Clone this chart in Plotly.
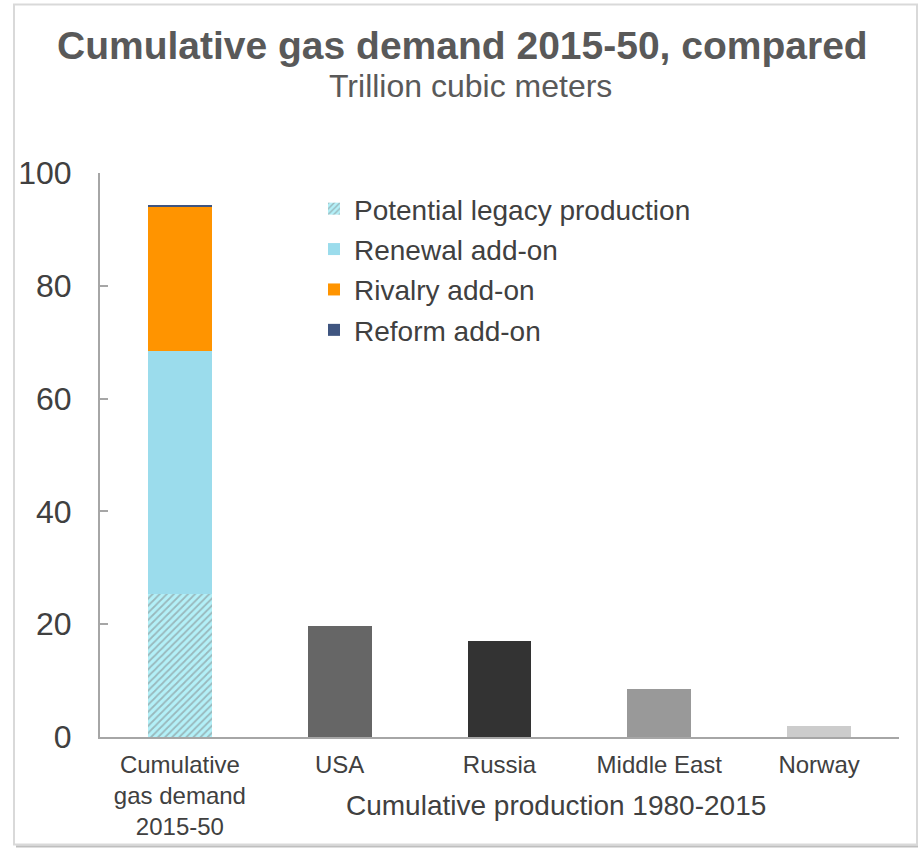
import plotly.graph_objects as go

categories = ["Cumulative<br>gas demand<br>2015-50", "USA", "Russia", "Middle East", "Norway"]
stack_names = ["Potential legacy production", "Renewal add-on", "Rivalry add-on", "Reform add-on"]
stack_values = [25.3, 43.2, 25.5, 0.4]
stack_colors = ["#b3f0f8", "#9bdcec", "#ff9400", "#3f5580"]
prod_categories = ["USA", "Russia", "Middle East", "Norway"]
prod_values = [19.6, 17.1, 8.5, 1.9]
prod_colors = ["#666666", "#333333", "#999999", "#cccccc"]
y_ticks = [0, 20, 40, 60, 80, 100]

FONT = "Liberation Sans, Arial, sans-serif"

fig = go.Figure()
for i, (name, val, col) in enumerate(zip(stack_names, stack_values, stack_colors)):
    marker = dict(color=col, line=dict(width=0))
    if i == 0:
        marker["pattern"] = dict(shape="/", fgcolor="#808080", bgcolor=col, size=5, solidity=0.35)
    fig.add_trace(go.Bar(x=[categories[0]], y=[val], name=name, marker=marker,
                         width=0.4, legendgroup=f"g{i}"))

fig.add_trace(go.Bar(x=prod_categories, y=prod_values, marker=dict(color=prod_colors, line=dict(width=0)),
                     width=0.4, showlegend=False))

W, H = 920, 852
L, R, T, B = 100, 21, 173, 113
pw = W - L - R
ph = H - T - B

def px2x(px):
    return (px - L) / pw

def py2y(py):
    return (H - B - py) / ph

fig.update_layout(
    width=W, height=H,
    margin=dict(l=L, r=R, t=T, b=B),
    barmode="stack",
    paper_bgcolor="white", plot_bgcolor="white",
    font=dict(family=FONT, color="#404040"),
    legend=dict(x=px2x(314), y=py2y(184), xanchor="left", yanchor="top",
                traceorder="grouped", tracegroupgap=1,
                font=dict(size=28, color="#404040", family=FONT),
                bgcolor="rgba(0,0,0,0)"),
    xaxis=dict(categoryorder="array", categoryarray=categories,
               showline=True, linecolor="#a6a6a6", linewidth=2,
               ticks="", tickfont=dict(size=24, color="#404040"), showgrid=False,
               ticklabelstandoff=5),
    yaxis=dict(range=[0, 100], tickvals=y_ticks, showline=True, linecolor="#a6a6a6", linewidth=2,
               ticks="inside", ticklen=8, tickcolor="#a6a6a6", tickwidth=2,
               tickfont=dict(size=32, color="#404040"), showgrid=False, zeroline=False,
               ticklabelstandoff=20),
    bargap=0.6,
    annotations=[
        dict(text="<b>Cumulative gas demand 2015-50, compared</b>", x=px2x(462), y=py2y(45),
             xref="paper", yref="paper", showarrow=False, xanchor="center", yanchor="middle",
             font=dict(size=39, color="#595959", family=FONT)),
        dict(text="Trillion cubic meters", x=px2x(470), y=py2y(86),
             xref="paper", yref="paper", showarrow=False, xanchor="center", yanchor="middle",
             font=dict(size=32, color="#595959", family=FONT)),
        dict(text="Cumulative production 1980-2015", x=px2x(556), y=py2y(808),
             xref="paper", yref="paper", showarrow=False, xanchor="center", yanchor="middle",
             font=dict(size=28, color="#404040", family=FONT)),
    ],
    shapes=[
        dict(type="rect", xref="paper", yref="paper",
             x0=px2x(14), x1=px2x(917), y0=py2y(847), y1=py2y(4),
             line=dict(color="#d9d9d9", width=2), fillcolor="rgba(0,0,0,0)", layer="below"),
        dict(type="line", xref="paper", yref="paper",
             x0=px2x(16), x1=px2x(918), y0=py2y(849), y1=py2y(849),
             line=dict(color="#bfbfbf", width=2)),
    ],
)

fig.write_html("out.html", config={"displayModeBar": False},
               post_script="document.body.style.margin='0';")
